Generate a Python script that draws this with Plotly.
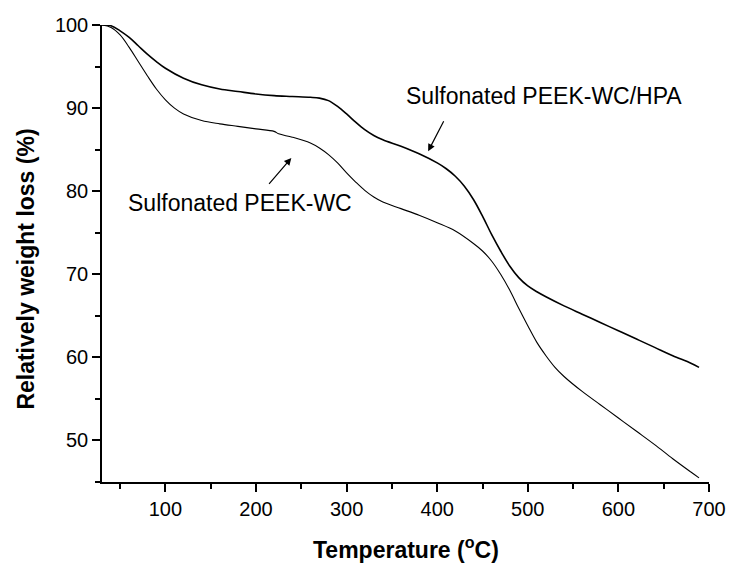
import plotly.graph_objects as go

# Sulfonated PEEK-WC/HPA (upper curve)
temp_hpa = [30, 40, 50, 60, 70, 80, 90, 100, 120, 140, 160, 180, 200, 220, 240, 260, 270, 280, 290,
            300, 310, 320, 330, 340, 360, 380, 400, 410, 420, 430, 440, 450, 460, 470, 480, 490,
            500, 510, 520, 540, 560, 580, 600, 620, 640, 660, 680, 689]
wt_hpa = [100, 99.9, 99.3, 98.5, 97.5, 96.5, 95.6, 94.8, 93.6, 92.8, 92.3, 92.0, 91.7, 91.5, 91.4, 91.3, 91.2, 90.9, 90.2,
          89.3, 88.3, 87.4, 86.7, 86.2, 85.4, 84.5, 83.4, 82.7, 81.8, 80.6, 79.0, 77.0, 74.8, 72.8, 71.0, 69.6,
          68.6, 67.9, 67.3, 66.2, 65.2, 64.2, 63.2, 62.2, 61.2, 60.2, 59.3, 58.8]

# Sulfonated PEEK-WC (lower curve)
temp_wc = [30, 40, 50, 60, 70, 80, 90, 100, 110, 120, 140, 160, 180, 200, 220, 225, 240, 260, 270, 280, 290,
           300, 310, 320, 330, 340, 360, 380, 400, 420, 440, 450, 460, 470, 480, 490,
           500, 510, 520, 530, 540, 560, 580, 600, 620, 640, 660, 680, 689]
wt_wc = [100, 99.7, 98.8, 97.3, 95.6, 93.9, 92.3, 91.0, 90.0, 89.3, 88.5, 88.1, 87.8, 87.5, 87.2, 86.9, 86.5, 85.8, 85.2, 84.4, 83.4,
         82.2, 81.1, 80.1, 79.3, 78.7, 77.9, 77.1, 76.2, 75.2, 73.7, 72.8, 71.6, 70.0, 68.1, 65.9,
         63.8, 61.8, 60.2, 58.8, 57.7, 55.9, 54.3, 52.7, 51.1, 49.5, 47.8, 46.2, 45.5]

x_ticks = [100, 200, 300, 400, 500, 600, 700]
y_ticks = [50, 60, 70, 80, 90, 100]

FONT = "Liberation Sans, Arial, sans-serif"

fig = go.Figure()
fig.add_trace(go.Scatter(x=temp_hpa, y=wt_hpa, mode="lines", line=dict(color="black", width=1.6, shape="spline"),
                         name="Sulfonated PEEK-WC/HPA", showlegend=False))
fig.add_trace(go.Scatter(x=temp_wc, y=wt_wc, mode="lines", line=dict(color="black", width=1.1, shape="spline"),
                         name="Sulfonated PEEK-WC", showlegend=False))

axis_common = dict(showline=True, linecolor="black", linewidth=1.5, showgrid=False, zeroline=False,
                   ticks="outside", ticklen=8, tickwidth=1.5, tickcolor="black",
                   tickfont=dict(family=FONT, size=20, color="black"))

fig.update_xaxes(range=[30, 700], tickvals=x_ticks, ticktext=[str(v) for v in x_ticks],
                 minor=dict(dtick=50, tick0=0, ticks="outside", ticklen=5, tickwidth=1.5, tickcolor="black"),
                 **axis_common)
fig.update_yaxes(range=[45, 100], tickvals=y_ticks, ticktext=[str(v) for v in y_ticks],
                 minor=dict(dtick=5, tick0=0, ticks="outside", ticklen=5, tickwidth=1.5, tickcolor="black"),
                 **axis_common)

annos = [
    dict(x=363, y=91.5, xref="x", yref="y", text="Sulfonated PEEK-WC/HPA", showarrow=False,
         xanchor="left", yanchor="middle", font=dict(family=FONT, size=23, color="black")),
    dict(x=57, y=78.6, xref="x", yref="y", text="Sulfonated PEEK-WC", showarrow=False,
         xanchor="left", yanchor="middle", font=dict(family=FONT, size=23, color="black")),
    dict(x=390, y=84.8, ax=408, ay=88.6, xref="x", yref="y", axref="x", ayref="y", text="",
         showarrow=True, arrowhead=2, arrowsize=1.2, arrowwidth=1.2, arrowcolor="black"),
    dict(x=239, y=84.0, ax=213, ay=80.7, xref="x", yref="y", axref="x", ayref="y", text="",
         showarrow=True, arrowhead=2, arrowsize=1.2, arrowwidth=1.2, arrowcolor="black"),
    dict(x=0.5, y=-0.145, xref="paper", yref="paper", text="<b>Temperature (<sup>o</sup>C)</b>", showarrow=False,
         xanchor="center", yanchor="middle", font=dict(family=FONT, size=23, color="black")),
    dict(x=-0.125, y=0.465, xref="paper", yref="paper", text="<b>Relatively weight loss (%)</b>", showarrow=False,
         textangle=-90, xanchor="center", yanchor="middle", font=dict(family=FONT, size=23, color="black")),
]
fig.update_layout(width=738, height=566, margin=dict(l=102, r=23, t=25, b=84),
                  paper_bgcolor="white", plot_bgcolor="white", annotations=annos)

fig.write_html("out.html")
